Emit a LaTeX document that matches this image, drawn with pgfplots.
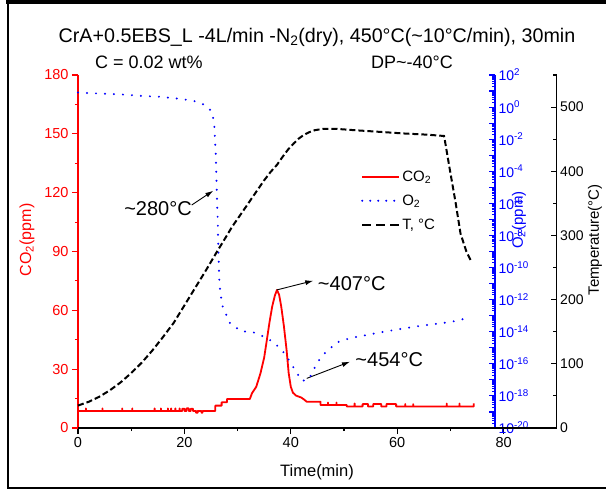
\documentclass[border=0pt]{standalone}
\usepackage{fontspec}
\setmainfont{Liberation Sans}
\usepackage{pgfplots}
\pgfplotsset{compat=1.18}
\usetikzlibrary{arrows.meta}
\newcommand{\fs}[1]{\fontsize{#1}{#1}\selectfont}
\def\minorlist{}
\foreach \e in {-20,...,1}{\foreach \m in {2,...,9}{\xdef\minorlist{\minorlist\m e\e,}}}
\pgfplotsset{
  common/.style={at={(78pt,-428pt)}, anchor=south west, scale only axis, height=353pt,
    /pgf/number format/assume math mode=true, clip=false,
    axis line style={line width=1.2pt}, tick style={line width=1.1pt}}
}
\begin{document}
\begin{tikzpicture}
\useasboundingbox (0pt,0pt) rectangle (606pt,-490pt);
\draw[line width=4pt] (6pt,-2pt) -- (606pt,-2pt);
\draw[line width=2pt] (8pt,-2pt) -- (8pt,-488pt) -- (606pt,-488pt);
% ---------- CO2 axis ----------
\begin{axis}[common, width=425.6pt,
  xmin=0, xmax=80, ymin=0, ymax=180,
  axis x line*=bottom, axis y line*=left,
  xtick={0,20,...,80}, minor xtick={10,30,50,70},
  ytick={0,30,...,180}, minor ytick={15,45,...,165},
  tick align=outside, major tick length=6pt, minor tick length=3pt,
  x tick style={black, line width=1.1pt},
  y axis line style={red},
  major y tick style={red, line width=1.1pt}, minor y tick style={red, line width=1.1pt},
  yticklabel style={red, font=\fs{14.5}},
  xticklabel style={font=\fs{14.5}},
  xlabel={Time(min)}, xlabel style={font=\fs{16.5}, at={(axis description cs:0.5616,-0.124)}, anchor=center},
  ylabel={CO\textsubscript{2}(ppm)}, ylabel style={red, font=\fs{16}, at={(axis description cs:-0.12,0.533)}, anchor=center},
]
\addplot[red, line width=1.8pt, line join=round] coordinates {
(0,8.7)
(1.5,8.7)(1.5,10)(1.5,8.7)
(4.6,8.7)(4.6,10)(4.6,8.7)
(8.3,8.7)(8.3,10)(8.3,8.7)
(10.2,8.7)(10.2,10)(10.2,8.7)
(14.4,8.7)(14.4,10)(14.4,8.7)
(15.6,8.7)(15.6,10)(15.6,8.7)
(16.9,8.7)(16.9,10)(16.9,8.7)
(17.5,8.7)(17.5,10)(17.5,8.7)
(18.3,8.7)(18.3,10)(18.3,8.7)
(19.1,8.7)(19.1,10)(19.1,8.7)
(19.6,8.7)(19.6,9.8)(20.0,9.8)(20.0,8.7)
(20.4,8.7)(20.4,10)(20.8,10)(20.8,8.7)
(21.2,8.7)(21.2,9.8)(21.6,9.8)(21.6,8.7)
(22.2,8.7)(22.2,7.8)(22.5,7.8)(22.5,8.7)
(23.2,8.7)(23.2,7.8)(23.4,7.8)(23.4,8.7)
(25.8,8.7)(25.8,11.4)(27.0,11.4)(27.0,13.1)(28.0,13.1)(28.0,14.8)(32.3,14.8)
(32.7,17.7)(33.5,21)(34.3,27.9)(35,36)(35.5,44.9)(36,54)(36.5,61.9)(37,67.5)(37.4,70.4)
(37.8,68)(38.2,62)(38.7,52)(39.2,40)(39.6,28)(40.0,21)(40.4,18)(41,16.5)(41.5,16)(42,15.5)
(42.5,14.5)(43.0,13.4)(45.6,13.4)(45.6,11.7)
(47.0,11.7)(47.0,13)(47.0,11.7)
(48.6,11.7)(48.6,13)(48.6,11.7)
(50.5,11.7)(50.5,11)
(52,11)(52,12.5)(52,11)
(53.5,11)(53.5,12.2)(54.5,12.2)(54.5,11)
(55.5,11)(55.5,12.2)(57,12.2)(57,11)
(58,11)(58,12.2)(59.8,12.2)(59.8,11)
(61.5,11)(61.5,12.2)(61.5,11)
(63,11)(63,12.2)(63,11)
(69.3,11)(69.3,12.5)(69.3,11)
(71.7,11)(71.7,12.5)(71.7,11)
(74.4,11)(74.4,12.5)
};
\node[font=\fs{20}] at (axis cs:15.04,112) {\textasciitilde 280°C};
\draw[-{Latex[length=8pt,width=5pt]}, line width=0.9pt] (axis cs:21.37,113.7) -- (axis cs:25.43,121.0);
\node[font=\fs{20}] at (axis cs:51.45,73.8) {\textasciitilde 407°C};
\draw[-{Latex[length=8pt,width=5pt]}, line width=0.9pt] (axis cs:37.35,70.4) -- (axis cs:44.23,75.1);
\node[font=\fs{20}] at (axis cs:58.5,34.7) {\textasciitilde 454°C};
\draw[-{Latex[length=8pt,width=5pt]}, line width=0.9pt] (axis cs:42.99,25.3) -- (axis cs:51.13,33.8);
\end{axis}
% ---------- O2 axis ----------
\begin{axis}[common, width=417pt,
  xmin=0, xmax=78.383, ymode=log, ymin=1e-20, ymax=1e2,
  axis y line*=right, axis x line=none,
  ytick={1e-20,1e-19,1e-18,1e-17,1e-16,1e-15,1e-14,1e-13,1e-12,1e-11,1e-10,1e-9,1e-8,1e-7,1e-6,1e-5,1e-4,1e-3,1e-2,1e-1,1,10,100},
  yticklabels={10\textsuperscript{-20},,10\textsuperscript{-18},,10\textsuperscript{-16},,10\textsuperscript{-14},,10\textsuperscript{-12},,10\textsuperscript{-10},,10\textsuperscript{-8},,10\textsuperscript{-6},,10\textsuperscript{-4},,10\textsuperscript{-2},,10\textsuperscript{0},,10\textsuperscript{2}},
  minor ytick/.expanded={\minorlist 1e2},
  tick align=inside, major tick length=6pt, minor tick length=3pt,
  y axis line style={blue},
  major y tick style={blue, line width=1.1pt}, minor y tick style={blue, line width=0.9pt},
  yticklabel style={blue, font=\fs{14}},
  ylabel={O\textsubscript{2}(ppm)}, ylabel style={blue, font=\fs{15}, at={(axis description cs:1.0576,0.589)}, anchor=center},
]
\addplot[blue, line width=2.2pt, dash pattern=on 0pt off 9pt, line cap=round] coordinates {
(0,8.1)(4,7)(7.9,6.2)(12,5)(15.4,4.4)(19.8,3.1)(22,2.3)(23.3,1.66)(24.5,0.9)(25.2,0.49)
(25.6,0.091)(25.9,1.2e-3)(26.1,5.9e-6)(26.3,3.2e-8)(26.4,6.3e-10)(26.6,7.9e-12)(27.1,4.5e-13)
(28.6,3.2e-14)(30.8,1.05e-14)(32.7,1e-14)(34.9,5e-15)(36.8,2.2e-15)(38.7,5e-16)(39.9,1.26e-16)
(41.2,2.5e-17)(42.1,8.7e-18)(43.4,1.1e-17)(45,1.26e-16)(46.5,5e-16)(48.7,2.2e-15)(51.2,4e-15)
(57.5,1e-14)(63.8,2.2e-14)(70,4e-14)(73.8,7.9e-14)
};
\end{axis}
% ---------- Temperature axis ----------
\begin{axis}[common, width=478.7pt,
  xmin=0, xmax=89.98, ymin=0, ymax=550,
  axis y line*=right, axis x line*=bottom, xtick=\empty,
  ytick={0,100,...,500}, minor ytick={50,150,...,550},
  tick align=inside, major tick length=6pt, minor tick length=4pt,
  major y tick style={black, line width=1.1pt}, minor y tick style={black, line width=1.1pt},
  yticklabel style={font=\fs{14}},
  ylabel={Temperature(°C)}, ylabel style={font=\fs{15}, at={(axis description cs:1.08,0.533)}, anchor=center},
  legend style={at={(axis description cs:0.591,0.735)}, anchor=north west, draw=none, fill=none,
    font=\fs{15}, row sep=8pt, inner sep=0pt},
  legend cell align=left,
  legend image code/.code={\draw[#1] (0pt,0pt) -- (37pt,0pt);},
]
\addlegendimage{red, line width=1.8pt}
\addlegendentry{CO\textsubscript{2}}
\addlegendimage{blue, line width=2.2pt, dash pattern=on 0pt off 8pt, line cap=round}
\addlegendentry{O\textsubscript{2}}
\addlegendimage{black, line width=2pt, dash pattern=on 9pt off 5pt}
\addlegendentry{T, °C}
\addplot[black, line width=2pt, dash pattern=on 6pt off 3pt, forget plot] coordinates {
(0,35)(2,40.8)(4,48.7)(6,58.8)(8,71)(10,85.6)(12,102)(14,121)(16,142)(18,164)(20,191)(22,218)
(24,245)(26,273)(27.4,292)(29,314)(31.1,339)(33,362)(35,386)(36.2,399)(37.4,410)(38.5,423)
(39.5,434)(40.5,443)(41.5,451)(42.5,457)(43.5,461)(44.5,464)(46,466)(48.7,466)(52,464)
(57.5,461)(61,459)(65.7,457)(68.8,455)
(69.0,446)(69.8,407)(71,350)(71.9,303)(73,275)(74,258)
};
\end{axis}
% ---------- texts ----------
\node[font=\fs{19.7}, anchor=base] at (317pt,-42pt) {CrA+0.5EBS\_L -4L/min -N\textsubscript{2}(dry), 450°C(\textasciitilde 10°C/min), 30min};
\node[font=\fs{18}, anchor=base west, inner sep=0pt] at (95pt,-68pt) {C = 0.02 wt\%};
\node[font=\fs{18}, anchor=base west, inner sep=0pt] at (371pt,-68pt) {DP\textasciitilde -40°C};
\end{tikzpicture}
\end{document}
